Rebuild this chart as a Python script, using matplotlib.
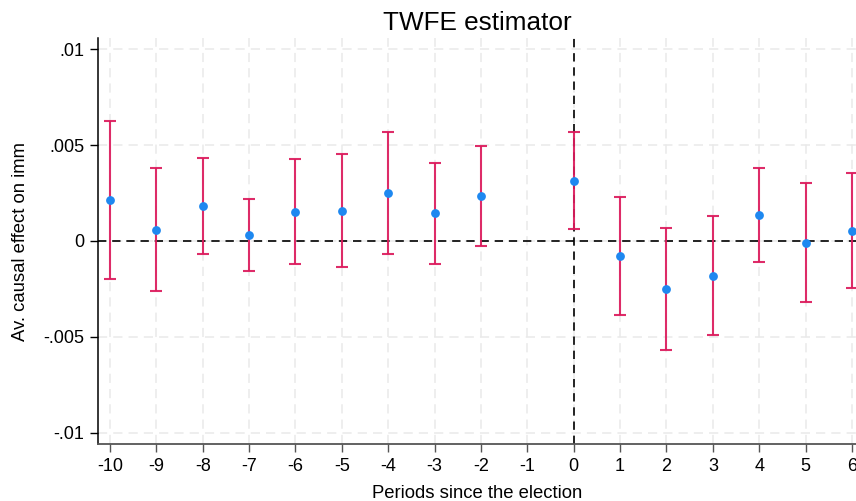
import matplotlib.pyplot as plt
import numpy as np

plt.rcParams['font.family'] = ['Liberation Sans', 'DejaVu Sans']
plt.rcParams['axes.unicode_minus'] = False

# event-time coefficients (period -1 is the omitted reference)
periods = [-10, -9, -8, -7, -6, -5, -4, -3, -2, 0, 1, 2, 3, 4, 5, 6]
coef = [0.00215, 0.00057, 0.00180, 0.00031, 0.00153, 0.00158, 0.00250, 0.00146,
        0.00234, 0.00312, -0.00080, -0.00250, -0.00181, 0.00135, -0.00012, 0.00054]
ci_low = [-0.00196, -0.00262, -0.00070, -0.00155, -0.00118, -0.00135, -0.00068, -0.00118,
          -0.00026, 0.00060, -0.00389, -0.00570, -0.00493, -0.00111, -0.00321, -0.00247]
ci_high = [0.00627, 0.00378, 0.00434, 0.00219, 0.00425, 0.00455, 0.00569, 0.00409,
           0.00495, 0.00566, 0.00231, 0.00069, 0.00132, 0.00383, 0.00300, 0.00352]

xticks = list(range(-10, 7))
yticks = [-0.01, -0.005, 0, 0.005, 0.01]
ytick_labels = ["-.01", "-.005", "0", ".005", ".01"]

periods = np.array(periods)
coef = np.array(coef)
err = np.array([coef - np.array(ci_low), np.array(ci_high) - coef])

fig = plt.figure(figsize=(8.56, 5.01), dpi=100)
ax = fig.add_axes([0.1148, 0.1132, 0.8852, 0.811])

ax.set_xlim(-10.252, 6.086)
ax.set_ylim(-0.01061, 0.01059)
ax.set_xticks(xticks)
ax.set_yticks(yticks)
ax.set_yticklabels(ytick_labels)

ax.grid(True, color='#e9e9e9', linestyle=(0, (6, 4)), linewidth=1.1)
ax.set_axisbelow(True)

ax.axhline(0, color='black', linestyle=(0, (5, 3.5)), linewidth=1.2, zorder=2)
ax.axvline(0, color='black', linestyle=(0, (5, 3.5)), linewidth=1.2, zorder=2)

ax.errorbar(periods, coef, yerr=err, fmt='none', ecolor='#dc1a5c', elinewidth=1.5,
            capsize=4, capthick=1.5, alpha=0.92, zorder=3)
ax.scatter(periods, coef, s=40, color='#1e88f0', zorder=4, linewidths=0, clip_on=False)

for side in ['top', 'right']:
    ax.spines[side].set_visible(False)
ax.spines['left'].set_color('black')
ax.spines['bottom'].set_color('#555555')
ax.spines['left'].set_linewidth(1.1)
ax.spines['bottom'].set_linewidth(1.3)
ax.tick_params(axis='both', labelsize=13, length=6, width=1.0, pad=4)
ax.tick_params(axis='x', colors='#555555', labelcolor='black')

ax.set_title("TWFE estimator", fontsize=18.8, pad=6)
ax.set_xlabel("Periods since the election", fontsize=13.3, labelpad=7)
ax.set_ylabel("Av. causal effect on imm", fontsize=13.3, labelpad=10)

fig.savefig("out.png", dpi=100)
